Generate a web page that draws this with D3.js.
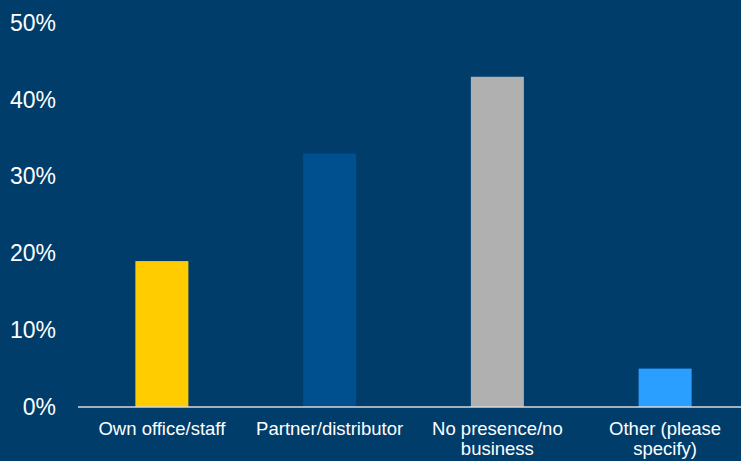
<!DOCTYPE html>
<html>
<head>
<meta charset="utf-8">
<script src="https://cdn.jsdelivr.net/npm/d3@7"></script>
<style>
  html, body { margin: 0; padding: 0; background: #003d6b; }
  svg { display: block; }
</style>
</head>
<body>
<svg id="chart" width="741" height="461"></svg>
<script>
// Survey answers: share of respondents per type of local presence
const categories = ["Own office/staff", "Partner/distributor", "No presence/no business", "Other (please specify)"];
const labelLines = [["Own office/staff"], ["Partner/distributor"], ["No presence/no", "business"], ["Other (please", "specify)"]];
const values = [0.19, 0.33, 0.43, 0.05];
const barColors = ["#ffcc00", "#00508f", "#b0b0b0", "#2a9fff"];
const yTicks = [0, 0.1, 0.2, 0.3, 0.4, 0.5];

const width = 741, height = 461;
const margin = { top: 23, right: -8, bottom: 54, left: 78 };

const svg = d3.select("#chart");
svg.append("rect").attr("width", width).attr("height", height).attr("fill", "#003d6b");

const x = d3.scaleBand()
  .domain(categories)
  .range([margin.left, width - margin.right])
  .paddingInner(0.684)
  .paddingOuter(0.342);

const y = d3.scaleLinear()
  .domain([0, 0.5])
  .range([height - margin.bottom, margin.top]);

// Bars
svg.append("g")
  .selectAll("rect")
  .data(values)
  .join("rect")
  .attr("x", (d, i) => x(categories[i]))
  .attr("width", x.bandwidth())
  .attr("y", d => y(d))
  .attr("height", d => y(0) - y(d))
  .attr("fill", (d, i) => barColors[i]);

// Y axis labels only (no line, no ticks)
const yAxis = svg.append("g")
  .attr("transform", `translate(${margin.left - 22},0)`)
  .call(d3.axisLeft(y).tickValues(yTicks).tickFormat(d3.format(".0%")).tickSize(0).tickPadding(0));
yAxis.select(".domain").remove();
yAxis.selectAll("text")
  .attr("fill", "#ffffff")
  .style("font-family", "'Liberation Sans', Arial, sans-serif")
  .style("font-size", "23px");

// Baseline
svg.append("line")
  .attr("x1", margin.left).attr("x2", width)
  .attr("y1", y(0)).attr("y2", y(0))
  .attr("stroke", "#d9d9d9")
  .attr("stroke-width", 1.5);

// Category labels, wrapped onto two lines where needed
const xLabels = svg.append("g")
  .selectAll("text")
  .data(categories)
  .join("text")
  .attr("x", d => x(d) + x.bandwidth() / 2)
  .attr("y", y(0) + 28)
  .attr("text-anchor", "middle")
  .attr("fill", "#ffffff")
  .style("font-family", "'Liberation Sans', Arial, sans-serif")
  .style("font-size", "18.5px");

xLabels.each(function(d, i) {
  const t = d3.select(this);
  labelLines[i].forEach((line, j) => {
    t.append("tspan")
      .attr("x", x(d) + x.bandwidth() / 2)
      .attr("dy", j === 0 ? 0 : 20)
      .text(line);
  });
});
</script>
</body>
</html>
